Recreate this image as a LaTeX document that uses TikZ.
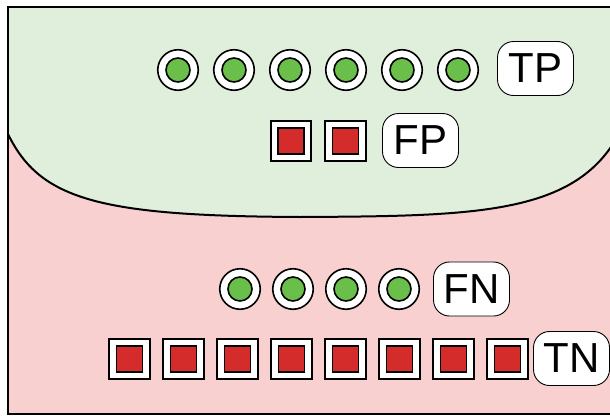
\documentclass[tikz,border=0pt]{standalone}
\usepackage{fontspec}
\setmainfont{Liberation Sans}
\definecolor{greenbg}{HTML}{E0EFDC}
\definecolor{pinkbg}{HTML}{F8D0D0}
\definecolor{ggreen}{HTML}{6ABF4B}
\definecolor{rred}{HTML}{D42B2B}
\tikzset{
  ring/.style={circle, draw=black, line width=1.6pt, fill=white, minimum size=40.5pt, inner sep=0pt},
  dot/.style={circle, draw=black, line width=1.6pt, fill=ggreen, minimum size=24pt, inner sep=0pt},
  sqbox/.style={rectangle, draw=black, line width=1.6pt, fill=white, minimum size=40.5pt, inner sep=0pt},
  redsq/.style={rectangle, draw=black, line width=1.6pt, fill=rred, minimum size=26pt, inner sep=0pt},
  tag/.style={rectangle, rounded corners=16pt, draw=black, line width=0.9pt, fill=white,
    minimum width=76pt, minimum height=54pt, inner sep=0pt, font=\fontsize{42}{42}\selectfont},
  border/.style={line width=2pt, draw=black}
}
\begin{document}
\begin{tikzpicture}[x=1pt,y=-1pt]
\useasboundingbox (0,0) rectangle (610,415);
% backgrounds
\fill[pinkbg] (8,7) rectangle (625,413.5);
\fill[greenbg] (8,7) -- (8,134) .. controls (40,200) and (100,216) .. (300,217)
  .. controls (480,216) and (580,215) .. (622,128) -- (625,7) -- cycle;
\draw[border] (8,134) .. controls (40,200) and (100,216) .. (300,217)
  .. controls (480,216) and (580,215) .. (622,128);
\draw[border] (625,7) -- (8,7) -- (8,413.5) -- (625,413.5);
% TP
\foreach \i in {1,...,6} {
  \node[ring] (tp\i) at ({178+56*(\i-1)},70) {};
  \node[dot] (tpd\i) at (tp\i) {};
}
\node[tag] (TP) at (535.5,68.5) {TP};
% FP
\foreach \i in {1,2} {
  \node[sqbox] (fp\i) at ({291+54.5*(\i-1)},141) {};
  \node[redsq] (fpr\i) at (fp\i) {};
}
\node[tag] (FP) at (420.5,140.5) {FP};
% FN
\foreach \i in {1,...,4} {
  \node[ring] (fn\i) at ({240+53*(\i-1)},289) {};
  \node[dot] (fnd\i) at (fn\i) {};
}
\node[tag] (FN) at (471.5,289) {FN};
% TN
\foreach \i in {1,...,8} {
  \node[sqbox] (tn\i) at ({129.5+54*(\i-1)},359) {};
  \node[redsq] (tnr\i) at (tn\i) {};
}
\node[tag] (TN) at (571.5,358.5) {TN};
\end{tikzpicture}
\end{document}
